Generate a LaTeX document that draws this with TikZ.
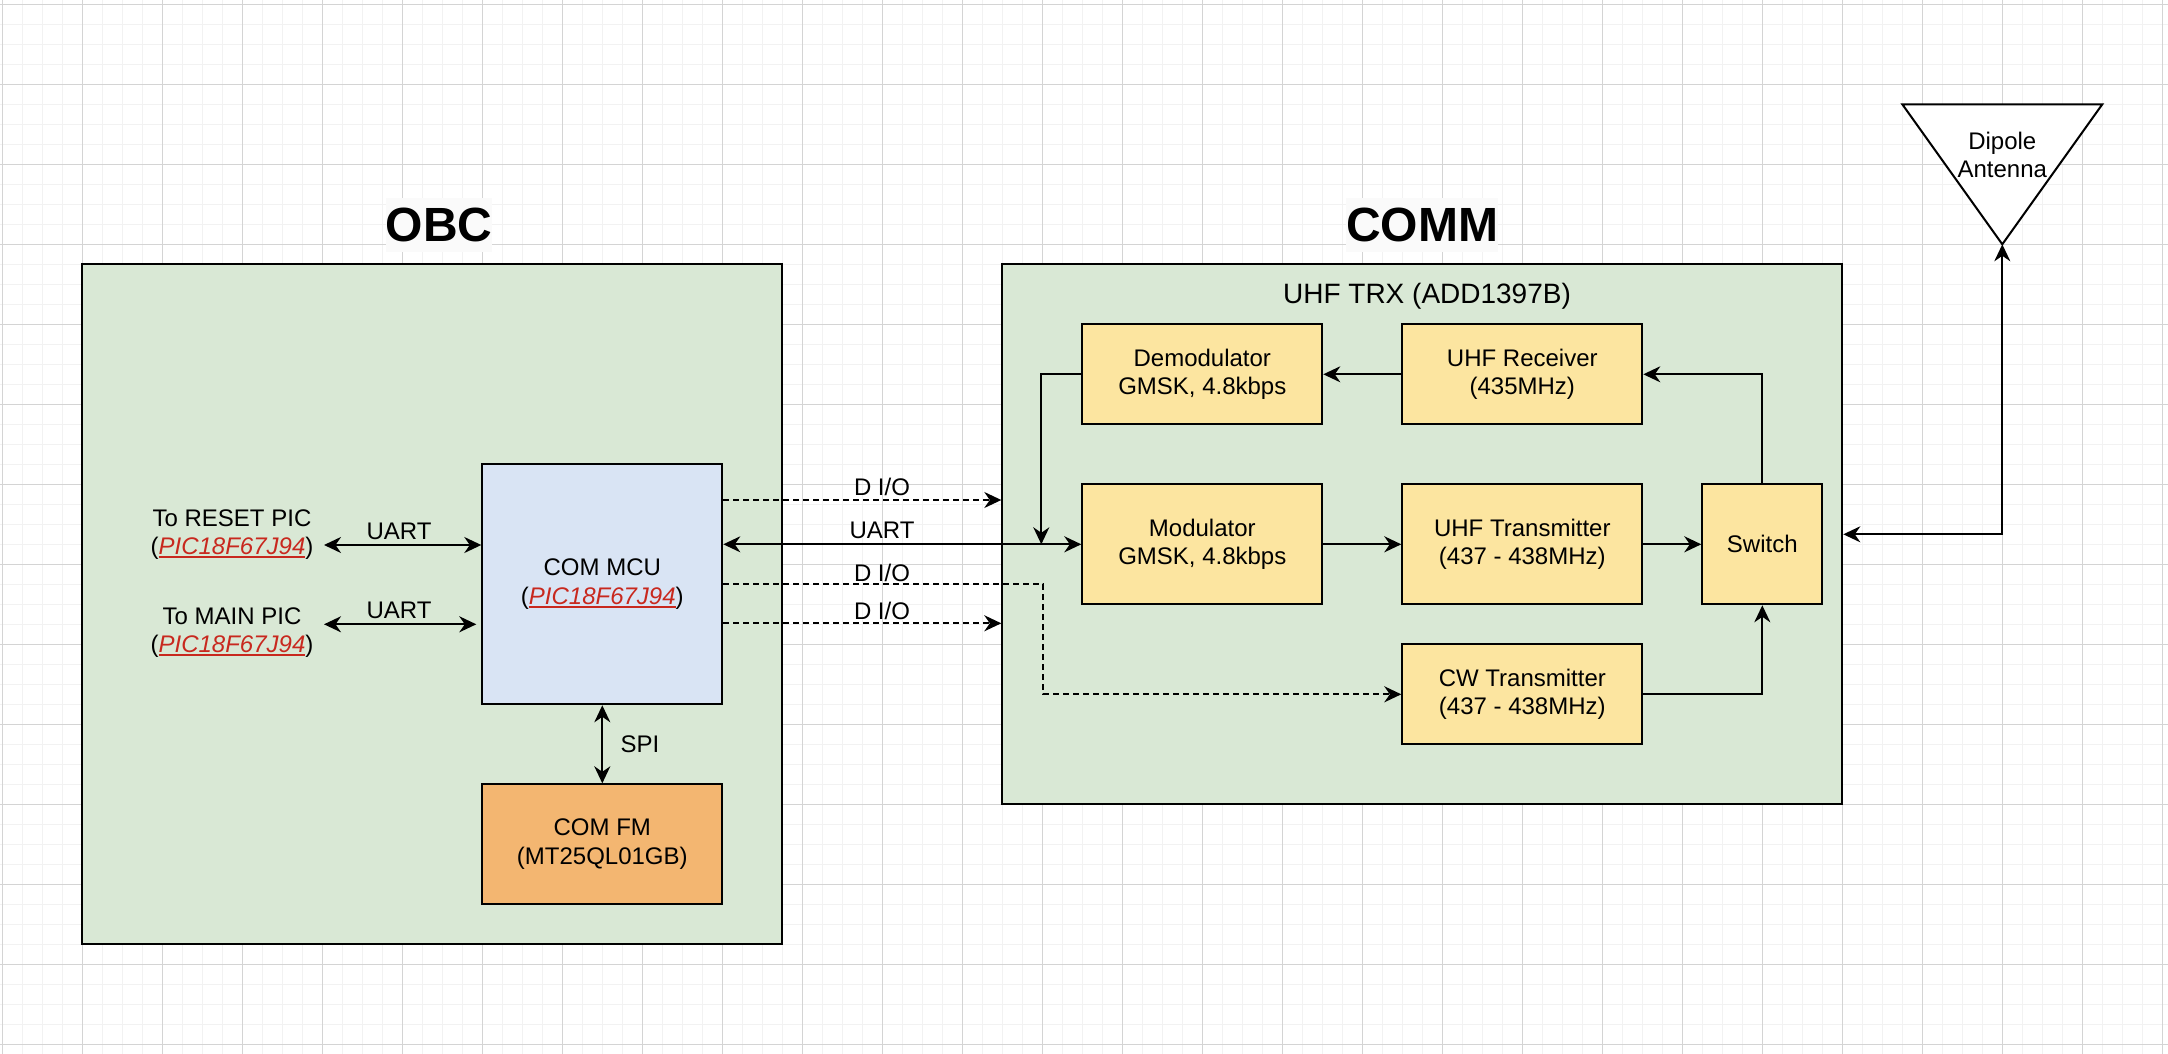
\documentclass[tikz,border=0pt]{standalone}
\usepackage{fontspec}
\setmainfont{Liberation Sans}
\usetikzlibrary{arrows.meta,calc}
\definecolor{gminor}{HTML}{F2F2F2}
\definecolor{gmajor}{HTML}{D4D4D4}
\definecolor{grp}{HTML}{D9E8D5}
\definecolor{mcublue}{HTML}{D9E4F4}
\definecolor{blk}{HTML}{FCE5A0}
\definecolor{fmor}{HTML}{F3B671}
\definecolor{linkred}{HTML}{C8281E}
\definecolor{titlebg}{HTML}{FAFAFA}
\newcommand{\lnk}[1]{{\color{linkred}\itshape\setbox0\hbox{#1}\rlap{\rule[-3pt]{\wd0}{1.6pt}}\box0}}
\begin{document}
\begin{tikzpicture}[x=1pt,y=-1pt,
  txt/.style={font=\fontsize{24}{28.8}\selectfont, align=center, inner sep=0pt},
  ttl/.style={font=\fontsize{48}{57.6}\selectfont\bfseries, fill=titlebg, inner xsep=0pt, inner ysep=0pt, minimum height=54pt},
  grpbox/.style={draw=black, line width=2pt, fill=grp, inner sep=0pt},
  blkbox/.style={draw=black, line width=2pt, fill=blk, txt},
  tip/.tip={Stealth[length=17pt,width=16pt,inset=5.5pt]},
  arr/.style={line width=2pt, -tip},
  biarr/.style={line width=2pt, tip-tip},
  dsh/.style={line width=1.8pt, -tip, dash pattern=on 6pt off 4pt}]
\useasboundingbox (0,0) rectangle (2168,1054);
\fill[white] (0,0) rectangle (2168,1054);
% grid
\foreach \i in {0,...,108} \draw[gminor, line width=1pt] (\i*20+2.3,0) -- (\i*20+2.3,1054);
\foreach \i in {0,...,52} \draw[gminor, line width=1pt] (0,\i*20+4.3) -- (2168,\i*20+4.3);
\foreach \i in {0,...,27} \draw[gmajor, line width=1pt] (\i*80+2.3,0) -- (\i*80+2.3,1054);
\foreach \i in {0,...,13} \draw[gmajor, line width=1pt] (0,\i*80+4.3) -- (2168,\i*80+4.3);

% group boxes
\node[grpbox, minimum width=700pt, minimum height=680pt] (obc) at (432.3,604.3) {};
\node[grpbox, minimum width=840pt, minimum height=540pt] (comm) at (1422.3,534.3) {};
\node[ttl] (obct) at (439,225) {OBC};
\node[ttl] (commt) at (1422,225) {COMM};
\node[txt, font=\fontsize{28}{33.6}\selectfont] (trx) at (1427,296) {UHF TRX (ADD1397B)};

% OBC contents
\node[draw=black, line width=2pt, fill=mcublue, minimum width=240pt, minimum height=240pt, txt] (mcu) at (602.3,584.3) {COM MCU\\(\lnk{PIC18F67J94})};
\node[draw=black, line width=2pt, fill=fmor, minimum width=240pt, minimum height=120pt, txt] (fm) at (602.3,844.3) {COM FM\\(MT25QL01GB)};
\node[txt] (rst) at (232,534.6) {To RESET PIC\\(\lnk{PIC18F67J94})};
\node[txt] (mainp) at (232,632.5) {To MAIN PIC\\(\lnk{PIC18F67J94})};
\coordinate (rA) at (324,545);
\coordinate (mA) at (324,624.3);

% COMM contents
\node[blkbox, minimum width=240pt, minimum height=100pt] (dem) at (1202.3,374.3) {Demodulator\\GMSK, 4.8kbps};
\node[blkbox, minimum width=240pt, minimum height=100pt] (rcv) at (1522.3,374.3) {UHF Receiver\\(435MHz)};
\node[blkbox, minimum width=240pt, minimum height=120pt] (mod) at (1202.3,544.3) {Modulator\\GMSK, 4.8kbps};
\node[blkbox, minimum width=240pt, minimum height=120pt] (tx) at (1522.3,544.3) {UHF Transmitter\\(437 - 438MHz)};
\node[blkbox, minimum width=120pt, minimum height=120pt] (sw) at (1762.3,544.3) {Switch};
\node[blkbox, minimum width=240pt, minimum height=100pt] (cw) at (1522.3,694.3) {CW Transmitter\\(437 - 438MHz)};

% antenna
\coordinate (antL) at (1902.3,104.3);
\coordinate (antR) at (2102.3,104.3);
\coordinate (antB) at (2002.3,244.3);
\draw[line width=2pt, fill=white, line join=miter] (antL) -- (antR) -- (antB) -- cycle;
\node[txt] (antt) at (2002.3,155) {Dipole\\Antenna};

% OBC connectors
\draw[biarr] (rA) -- (mcu.west |- rA);
\node[txt] (u1) at (399,531) {UART};
\draw[biarr] (mA) -- ([xshift=-5pt]mcu.west |- mA);
\node[txt] (u2) at (399,610.5) {UART};
\draw[biarr] (mcu.south) -- (fm.north);
\node[txt] (spi) at (640,744) {SPI};

% OBC-COMM connectors
\draw[dsh] ([yshift=84.3pt]mcu.east) coordinate (d1s) -- (d1s -| comm.west);
\node[txt] (l1) at (882,486.7) {D I/O};
\draw[biarr] ([yshift=40pt]mcu.east) -- (mod.west);
\node[txt] (l2) at (882,530) {UART};
\draw[dsh] (mcu.east) -- ++(320,0) |- (cw.west);
\node[txt] (l3) at (882,572.7) {D I/O};
\draw[dsh] ([yshift=-39pt]mcu.east) coordinate (d4s) -- (d4s -| comm.west);
\node[txt] (l4) at (882,611) {D I/O};

% COMM connectors
\draw[arr] (dem.west) -- ++(-40,0) -- ([xshift=-40pt]mod.west);
\draw[arr] (rcv.west) -- (dem.east);
\draw[arr] (sw.north) |- (rcv.east);
\draw[arr] (mod.east) -- (tx.west);
\draw[arr] (tx.east) -- (sw.west);
\draw[arr] (cw.east) -| (sw.south);
\draw[biarr] (comm.east) -| (antB);
\end{tikzpicture}
\end{document}
